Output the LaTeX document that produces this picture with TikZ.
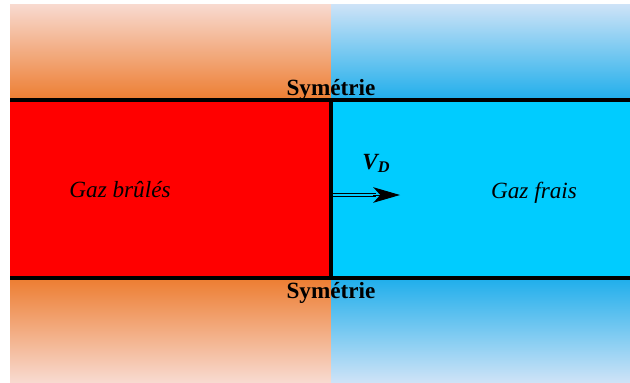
\documentclass[tikz,border=0pt]{standalone}
\usepackage{fontspec}
\setmainfont{Liberation Serif}
\usepackage{xcolor}
\usetikzlibrary{positioning, arrows.meta, calc}
\definecolor{burntred}{HTML}{FF0000}
\definecolor{freshcyan}{HTML}{00CCFF}
\definecolor{deeporange}{HTML}{ED7D31}
\definecolor{paleorange}{HTML}{F8DAD0}
\definecolor{deepblue}{HTML}{1FAEEB}
\definecolor{paleblue}{HTML}{CEE3F7}

\tikzset{
  wall/.style={line width=2.5pt, black},
  front/.style={line width=2.2pt, black},
  symlabel/.style={font=\fontsize{16.5}{19}\selectfont\bfseries, inner sep=0pt},
  gaslabel/.style={font=\fontsize{16.5}{19}\selectfont\itshape, inner sep=0pt}
}

\begin{document}
\begin{tikzpicture}[x=0.025cm, y=-0.025cm]
    \useasboundingbox (0,0) rectangle (630,382);
    % symmetric halves above and below
    \shade[top color=paleorange, bottom color=deeporange] (10,4) rectangle (331,100);
    \shade[top color=paleblue, bottom color=deepblue] (331,4) rectangle (630,100);
    \shade[top color=deeporange, bottom color=paleorange] (10,278) rectangle (331,382);
    \shade[top color=deepblue, bottom color=paleblue] (331,278) rectangle (630,382);
    % the channel
    \fill[burntred] (10,100) rectangle (331,278);
    \fill[freshcyan] (331,100) rectangle (630,278);
    \draw[wall] (10,100) -- (630,100);
    \draw[wall] (10,278) -- (630,278);
    \draw[front] (331,100) -- (331,278);

    \node[symlabel, anchor=base] (symtop) at (331,95) {Symétrie};
    \node[symlabel, anchor=base] (symbot) at (331,298) {Symétrie};
    \node[gaslabel, anchor=base] (burnt) at (120,197) {Gaz brûlés};
    \node[gaslabel, anchor=base] (fresh) at (534,198) {Gaz frais};

    \coordinate (flame) at (332.5,195);
    \coordinate (tip) at (400,195);
    \draw[double=freshcyan, double distance=1.6pt, line width=0.7pt] (flame) -- ($(tip)+(-24,0)$);
    \draw[line width=0.7pt, -{Stealth[length=19pt, width=11pt, inset=5pt]}] ($(tip)+(-27,0)$) -- (tip);
    \node[anchor=base west, font=\fontsize{16.5}{19}\selectfont\bfseries\itshape, inner sep=0pt]
      (speed) at (362,169) {V\textsubscript{D}};
\end{tikzpicture}
\end{document}
